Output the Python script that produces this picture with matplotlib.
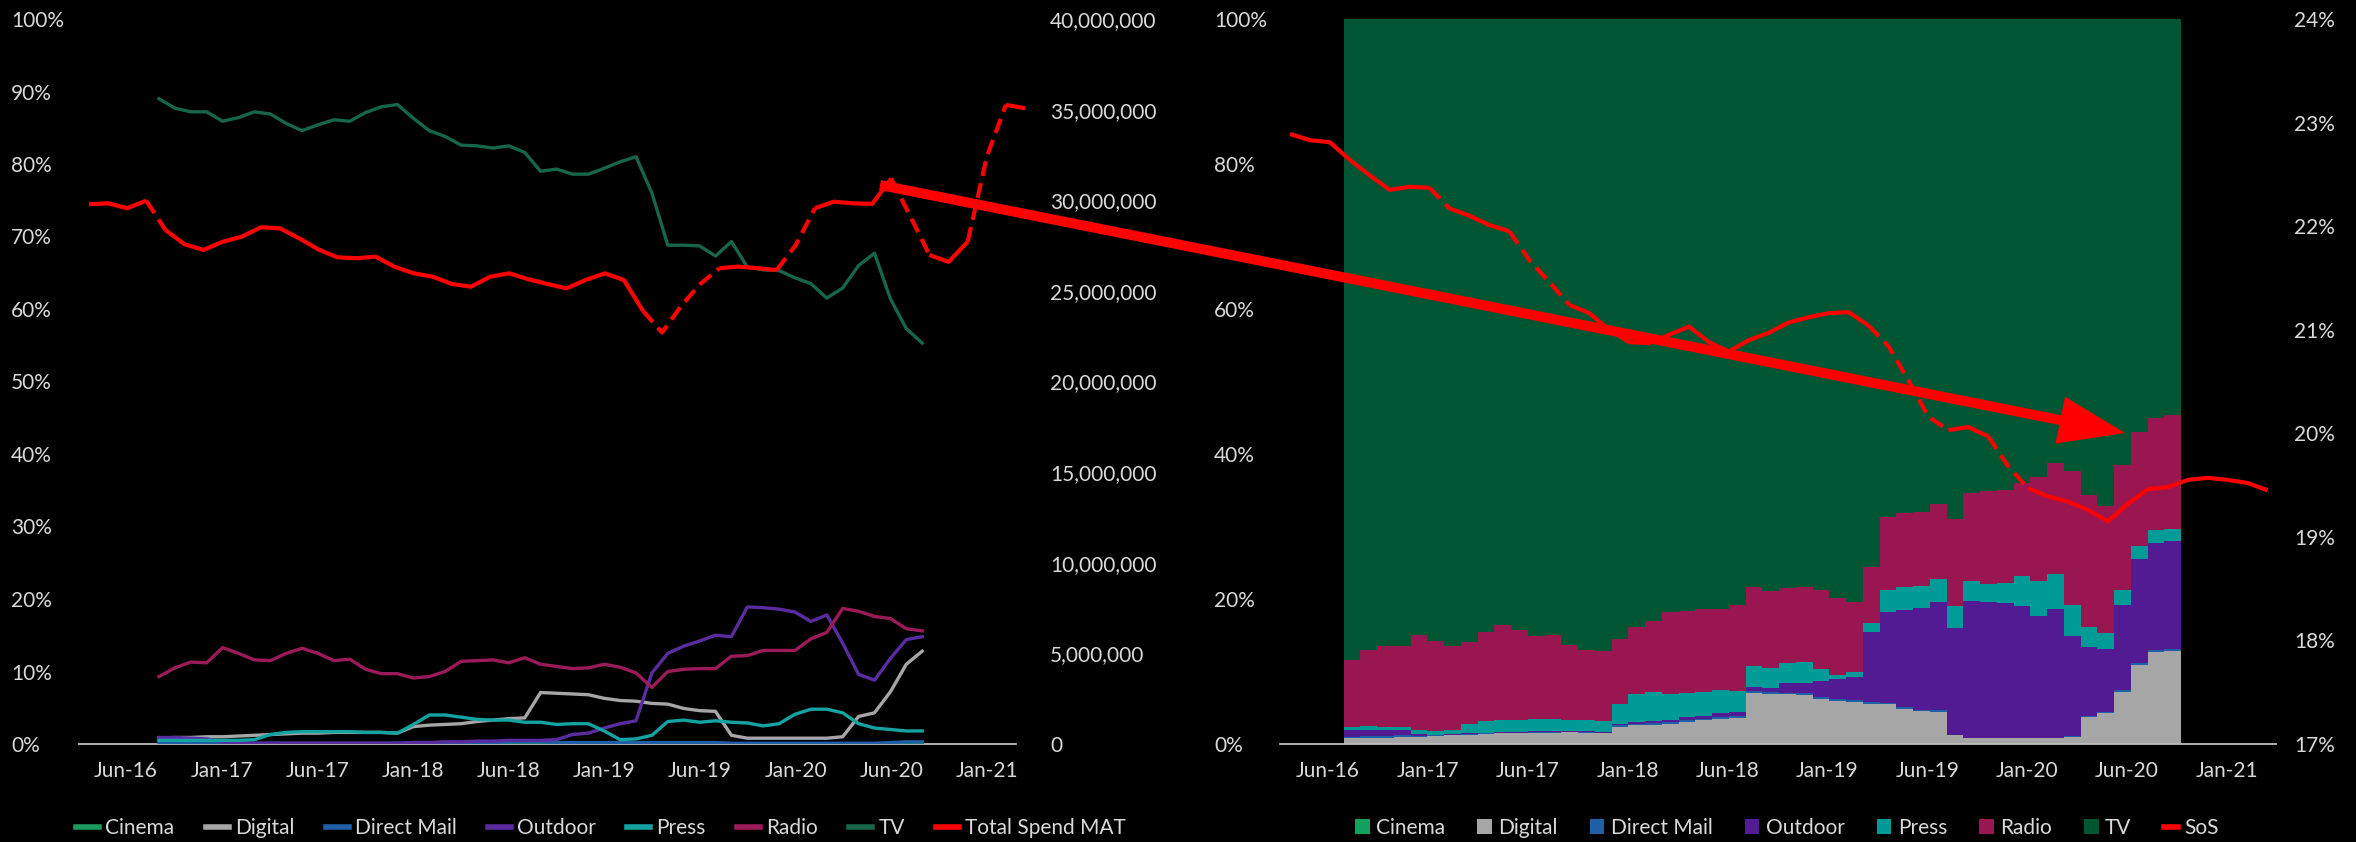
import numpy as np
import matplotlib
matplotlib.use("Agg")
import matplotlib.pyplot as plt
from matplotlib.lines import Line2D
from matplotlib.patches import Patch, FancyArrow
from matplotlib.ticker import FuncFormatter

plt.rcParams['font.family'] = ['Lato', 'DejaVu Sans']

# ---------------------------------------------------------------- data
# Monthly media-mix share of spend (%), first month = Aug-16
cinema = [0.0] * 50
digital = [0.8, 0.9, 0.9, 1.0, 1.0, 1.1, 1.2, 1.3, 1.4, 1.5,
           1.5, 1.6, 1.6, 1.6, 1.6, 1.5, 2.4, 2.6, 2.7, 2.8,
           3.1, 3.3, 3.5, 3.6, 7.1, 7.0, 6.9, 6.8, 6.3, 6.0,
           5.9, 5.6, 5.5, 4.9, 4.6, 4.5, 1.2, 0.8, 0.8, 0.8,
           0.8, 0.8, 0.8, 1.0, 3.8, 4.3, 7.2, 11.0, 12.8, 12.9]
direct_mail = [0.2, 0.2, 0.2, 0.2, 0.1, 0.1, 0.1, 0.1, 0.1, 0.1,
               0.1, 0.1, 0.1, 0.1, 0.1, 0.1, 0.2, 0.2, 0.2, 0.2,
               0.2, 0.2, 0.3, 0.3, 0.3, 0.2, 0.2, 0.2, 0.2, 0.2,
               0.2, 0.2, 0.2, 0.2, 0.2, 0.2, 0.1, 0.1, 0.1, 0.1,
               0.1, 0.1, 0.1, 0.1, 0.1, 0.1, 0.2, 0.3, 0.3, 0.3]
outdoor = [0.9, 0.9, 0.8, 0.7, 0.3, 0.1, 0.1, 0.1, 0.1, 0.1,
           0.1, 0.1, 0.1, 0.1, 0.1, 0.1, 0.2, 0.2, 0.3, 0.3,
           0.4, 0.4, 0.5, 0.5, 0.5, 0.6, 1.3, 1.5, 2.2, 2.8,
           3.2, 9.8, 12.5, 13.5, 14.2, 15.0, 14.8, 18.9, 18.8, 18.6,
           18.2, 16.9, 17.8, 13.9, 9.6, 8.8, 11.8, 14.4, 14.8, 14.9]
press = [0.5, 0.5, 0.5, 0.5, 0.5, 0.5, 0.6, 1.3, 1.6, 1.7,
         1.7, 1.7, 1.7, 1.6, 1.6, 1.5, 2.7, 4.0, 4.0, 3.7,
         3.4, 3.3, 3.3, 3.0, 3.0, 2.7, 2.8, 2.8, 1.8, 0.6,
         0.7, 1.2, 3.1, 3.3, 3.0, 3.2, 3.0, 2.9, 2.5, 2.8,
         4.1, 4.8, 4.8, 4.3, 2.8, 2.2, 2.0, 1.8, 1.8, 1.7]
radio = [9.3, 10.5, 11.3, 11.2, 13.3, 12.5, 11.6, 11.5, 12.5, 13.2,
         12.5, 11.5, 11.7, 10.3, 9.7, 9.7, 9.1, 9.3, 10.0, 11.4,
         11.5, 11.6, 11.2, 11.9, 11.0, 10.7, 10.4, 10.5, 11.0, 10.6,
         9.8, 7.8, 10.0, 10.3, 10.4, 10.4, 12.1, 12.2, 12.9, 12.9,
         12.9, 14.5, 15.4, 18.7, 18.3, 17.6, 17.3, 15.9, 15.6, 15.8]
tv = [89.0, 87.7, 87.2, 87.2, 85.9, 86.4, 87.2, 86.9, 85.6, 84.6,
      85.4, 86.1, 85.9, 87.1, 87.9, 88.2, 86.3, 84.6, 83.8, 82.6,
      82.5, 82.2, 82.5, 81.6, 79.0, 79.3, 78.6, 78.6, 79.4, 80.3,
      81.0, 76.0, 68.8, 68.8, 68.7, 67.3, 69.3, 65.8, 65.4, 65.3,
      64.3, 63.5, 61.5, 62.9, 66.0, 67.7, 61.4, 57.3, 55.3, 54.9]

# Moving annual total spend
total_spend_mat = [29780000, 29830000, 29560000, 29980000, 28360000,
                   27570000, 27260000, 27710000, 27990000, 28510000,
                   28450000, 27900000, 27290000, 26850000, 26800000,
                   26890000, 26330000, 25970000, 25780000, 25380000,
                   25230000, 25780000, 25970000, 25640000, 25380000,
                   25140000, 25600000, 25970000, 25600000, 23900000,
                   22700000, 24170000, 25380000, 26250000, 26340000,
                   26250000, 26150000, 27530000, 29560000, 29920000,
                   29830000, 29800000, 31200000, 29100000, 26980000,
                   26600000, 27710000, 32400000, 35260000, 35080000]

# Share of spend (%)
sos = [22.89, 22.83, 22.81, 22.64, 22.49, 22.35, 22.38, 22.37, 22.17, 22.10,
       22.01, 21.95, 21.67, 21.46, 21.24, 21.16, 21.00, 20.88, 20.87, 20.95,
       21.03, 20.88, 20.79, 20.90, 20.97, 21.07, 21.12, 21.16, 21.17, 21.04,
       20.84, 20.51, 20.16, 20.03, 20.06, 19.97, 19.68, 19.47, 19.39, 19.34,
       19.26, 19.15, 19.32, 19.46, 19.48, 19.55, 19.57, 19.55, 19.52, 19.45]

# Segments (point k -> k+1) drawn dashed
mat_dashed = [3, 29, 30, 31, 32, 36, 37, 42, 43, 46, 47]
sos_dashed = [7, 11, 12, 13, 29, 30, 31, 32, 35, 36]

x_labels = ['Jun-16', 'Jan-17', 'Jun-17', 'Jan-18', 'Jun-18',
            'Jan-19', 'Jun-19', 'Jan-20', 'Jun-20', 'Jan-21']

channels = ['Cinema', 'Digital', 'Direct Mail', 'Outdoor', 'Press', 'Radio', 'TV']
line_colors = ['#1A9A5C', '#A6A6A6', '#1F5FA8', '#5A2CA0', '#14A3A3', '#9B1B5A', '#17664A']
bar_colors = ['#12A05E', '#A6A6A6', '#1F5FA8', '#521B93', '#009B96', '#9A1650', '#005632']
RED = '#FF0000'
TXT = '#D9D9D9'
FS = 15

# ---------------------------------------------------------------- layout
W, H = 2356, 842
fig = plt.figure(figsize=(W / 100, H / 100), dpi=100, facecolor='black')


def rect(x0, x1, y_top, y_bot):
    return [x0 / W, 1 - y_bot / H, (x1 - x0) / W, (y_bot - y_top) / H]


left_rect = rect(79, 1016, 19, 744)
right_rect = rect(1280, 2276, 19, 744)


def clean(ax, keep_bottom=False):
    ax.set_facecolor('none')
    for name, sp in ax.spines.items():
        sp.set_visible(keep_bottom and name == 'bottom')
    ax.spines['bottom'].set_color('#BFBFBF')
    ax.spines['bottom'].set_linewidth(1.3)
    ax.tick_params(length=0, colors=TXT, labelsize=FS)


def styled_line(ax, y, dashed, color, lw):
    x = np.arange(len(y))
    y = np.asarray(y, dtype=float)
    n = len(y)
    k = 0
    while k < n - 1:
        is_dash = k in dashed
        j = k
        while j < n - 1 and ((j in dashed) == is_dash):
            j += 1
        ax.plot(x[k:j + 1], y[k:j + 1], color=color, lw=lw,
                linestyle=(0, (3.6, 1.8)) if is_dash else '-',
                solid_joinstyle='round', dash_capstyle='butt',
                solid_capstyle='butt', clip_on=False, zorder=5)
        k = j


series = [cinema, digital, direct_mail, outdoor, press, radio, tv]

# ---------------------------------------------------------------- left panel
ax_l = fig.add_axes(left_rect)
clean(ax_l, keep_bottom=True)
n_line = 49
px_l = 15.9
ax_l.set_xlim((79 - 159) / px_l, (1016 - 159) / px_l)
ax_l.set_ylim(0, 100)
months_l = np.arange(n_line)
for vals, col in zip(series, line_colors):
    ax_l.plot(months_l, vals[:n_line], color=col, lw=2.4, zorder=3)
ax_l.set_yticks(np.arange(0, 101, 10))
ax_l.yaxis.set_major_formatter(FuncFormatter(lambda v, p: f'{v:.0f}%'))
for lab in ax_l.get_yticklabels():
    lab.set_ha('left')
ax_l.tick_params(axis='y', pad=68 * 0.72)
ax_l.set_xticks((126 - 159) / px_l + np.arange(len(x_labels)) * 95.7 / px_l)
ax_l.set_xticklabels(x_labels)
ax_l.tick_params(axis='x', pad=12)

ax_mat = fig.add_axes(left_rect)
clean(ax_mat)
px_m = 936 / 49
ax_mat.set_xlim((79 - 89) / px_m, (1016 - 89) / px_m)
ax_mat.set_ylim(0, 40_000_000)
styled_line(ax_mat, total_spend_mat, mat_dashed, RED, 3.0)
ax_mat.set_xticks([])
ax_mat.yaxis.tick_right()
ax_mat.set_yticks(np.arange(0, 40_000_001, 5_000_000))
ax_mat.yaxis.set_major_formatter(FuncFormatter(lambda v, p: f'{v:,.0f}'))
ax_mat.tick_params(axis='y', pad=34 * 0.72)

# ---------------------------------------------------------------- right panel
ax_r = fig.add_axes(right_rect)
clean(ax_r, keep_bottom=True)
px_r = 16.75
ax_r.set_xlim((1280 - 1351.9) / px_r, (2276 - 1351.9) / px_r)
ax_r.set_ylim(0, 100)
stack = np.array(series, dtype=float)
stack = stack / stack.sum(axis=0) * 100.0
months_r = np.arange(stack.shape[1])
bottom = np.zeros(stack.shape[1])
for vals, col in zip(stack, bar_colors):
    ax_r.bar(months_r, vals, width=1.0, bottom=bottom, color=col,
             linewidth=0, zorder=2)
    bottom += vals
ax_r.set_yticks(np.arange(0, 101, 20))
ax_r.yaxis.set_major_formatter(FuncFormatter(lambda v, p: f'{v:.0f}%'))
for lab in ax_r.get_yticklabels():
    lab.set_ha('left')
ax_r.tick_params(axis='y', pad=66 * 0.72)
ax_r.set_xticks((1328 - 1351.9) / px_r + np.arange(len(x_labels)) * 99.9 / px_r)
ax_r.set_xticklabels(x_labels)
ax_r.tick_params(axis='x', pad=12)

ax_s = fig.add_axes(right_rect)
clean(ax_s)
px_s = 977.6 / 49
ax_s.set_xlim((1280 - 1290) / px_s, (2276 - 1290) / px_s)
ax_s.set_ylim(17, 24)
styled_line(ax_s, sos, sos_dashed, RED, 3.0)
ax_s.set_xticks([])
ax_s.yaxis.tick_right()
ax_s.set_yticks(np.arange(17, 25, 1))
ax_s.yaxis.set_major_formatter(FuncFormatter(lambda v, p: f'{v:.0f}%'))
ax_s.tick_params(axis='y', pad=18 * 0.72)

# ---------------------------------------------------------------- legends
h_left = [Line2D([0], [0], color=c, lw=4) for c in line_colors]
h_left.append(Line2D([0], [0], color=RED, lw=4))
fig.legend(h_left, channels + ['Total Spend MAT'], loc='center',
           bbox_to_anchor=(601 / W, 1 - 828 / H), ncol=8, frameon=False,
           fontsize=FS, labelcolor=TXT, handlelength=1.1, handletextpad=0.3,
           columnspacing=1.5)

h_right = [Patch(facecolor=c, edgecolor='none') for c in bar_colors]
h_right.append(Line2D([0], [0], color=RED, lw=4))
fig.legend(h_right, channels + ['SoS'], loc='center',
           bbox_to_anchor=(1787 / W, 1 - 828 / H), ncol=8, frameon=False,
           fontsize=FS, labelcolor=TXT, handlelength=0.7, handleheight=0.7,
           handletextpad=0.3, columnspacing=1.55)

# ---------------------------------------------------------------- call-out arrow
ax_o = fig.add_axes([0, 0, 1, 1])
ax_o.set_xlim(0, W)
ax_o.set_ylim(H, 0)
ax_o.axis('off')
ax_o.add_patch(FancyArrow(880, 185, 2125 - 880, 433 - 185, width=10,
                          head_width=48, head_length=66,
                          length_includes_head=True, color=RED,
                          linewidth=0, zorder=10))

fig.savefig('out.png', dpi=100, facecolor='black')
